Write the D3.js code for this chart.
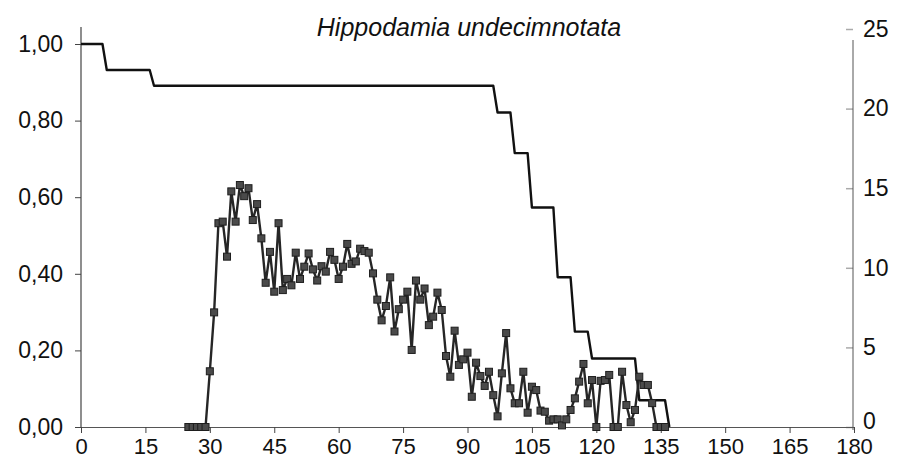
<!DOCTYPE html>
<html><head><meta charset="utf-8">
<script src="https://cdn.jsdelivr.net/npm/d3@7"></script>
<style>
body{margin:0;background:#fff}
svg{display:block}
text{font-family:"Liberation Sans",Arial,sans-serif;fill:#111}
</style>
</head><body>
<svg id="c" width="903" height="474"></svg>
<script>
// ---- data ----
const chartTitle = "Hippodamia undecimnotata";
const xTickValues = [0, 15, 30, 45, 60, 75, 90, 105, 120, 135, 150, 165, 180];
const leftTickValues = [0, 0.2, 0.4, 0.6, 0.8, 1.0];
const rightTickValues = [0, 5, 10, 15, 20, 25];

// survival (lx) – change points of the step line
const survivalDays   = [0, 5, 6, 16, 17, 96, 97, 100, 101, 104, 105, 110, 111, 114, 115, 118, 119, 129, 130, 136, 137];
const survivalValues = [1.0, 1.0, 0.932, 0.932, 0.891, 0.891, 0.821, 0.821, 0.715, 0.715, 0.573, 0.573, 0.391, 0.391, 0.249, 0.249, 0.179, 0.179, 0.07, 0.07, 0];

// daily fecundity (eggs/female/day), first value is day 25
const fecundityStartDay = 25;
const fecundityValues = [
  0, 0, 0, 0, 0,
  3.5, 7.2, 12.8, 12.9, 10.7, 14.8, 12.9, 15.2, 14.5, 15.0,
  13.0, 14.0, 11.85, 9.06, 11.0, 8.5, 12.8, 8.6, 9.3, 8.9,
  10.95, 9.3, 10.07, 10.9, 9.9, 9.2, 10.1, 9.76, 11.0, 10.5,
  9.3, 10.07, 11.5, 10.25, 10.4, 11.2, 11.05, 10.95, 9.65, 8.0,
  6.7, 7.6, 9.4, 6.0, 7.4, 8.0, 8.5, 4.84, 9.2, 8.0,
  8.7, 6.4, 6.93, 8.44, 7.35, 4.46, 3.16, 6.05, 3.9, 4.25,
  4.67, 1.9, 4.04, 3.2, 2.58, 3.47, 2.0, 0.67, 3.37, 5.9,
  2.43, 1.49, 1.49, 3.47, 0.9, 2.53, 2.32, 1.03, 0.96, 0.4,
  0.48, 0.48, 0.1, 0.48, 1.07, 1.8, 2.85, 3.96, 1.49, 2.95,
  0, 2.9, 2.95, 3.27, 0, 0, 3.47, 1.38, 0.3, 1.07,
  3.16, 2.64, 2.64, 1.5, 0, 0, 0
];

// ---- chart ----
const svg = d3.select("#c");
const x  = d3.scaleLinear().domain([0, 180]).range([81, 854]);
const yL = d3.scaleLinear().domain([0, 1]).range([427, 44]);
const yR = d3.scaleLinear().domain([0, 25]).range([427, 29]);

const fmtL = v => d3.format(".2f")(v).replace(".", ",");
const FS = 23;

// left axis
const gL = svg.append("g").attr("transform", "translate(81,0)")
  .call(d3.axisLeft(yL).tickValues(leftTickValues).tickFormat(fmtL).tickSize(6).tickPadding(12));
gL.select(".domain").remove();
gL.selectAll(".tick line").attr("stroke", "#444");
gL.selectAll("text").attr("font-size", FS).attr("fill", "#111");
svg.append("line").attr("x1", 81).attr("x2", 81).attr("y1", 27).attr("y2", 427)
  .attr("stroke", "#444").attr("stroke-width", 1.2);

// right axis
const gR = svg.append("g").attr("transform", "translate(853,0)")
  .call(d3.axisRight(yR).tickValues(rightTickValues).tickSizeInner(-7).tickSizeOuter(0).tickPadding(10));
gR.select(".domain").remove();
gR.selectAll(".tick line").attr("stroke", "#aaa").attr("stroke-width", 1.5);
gR.selectAll("text").attr("font-size", FS).attr("fill", "#111");
gR.selectAll(".tick").filter(d => d === 0).select("text").attr("dy", "0.08em");
svg.append("line").attr("x1", 853).attr("x2", 853).attr("y1", 40).attr("y2", 430)
  .attr("stroke", "#555").attr("stroke-width", 1);

// bottom axis
const gB = svg.append("g").attr("transform", "translate(0,427)")
  .call(d3.axisBottom(x).tickValues(xTickValues).tickSize(6).tickSizeOuter(0).tickPadding(5));
gB.select(".domain").attr("stroke", "#555").attr("stroke-width", 1.2);
gB.selectAll(".tick line").attr("stroke", "#444");
gB.selectAll("text").attr("font-size", 22).attr("fill", "#111");

// title
svg.append("text").attr("x", 469).attr("y", 36).attr("text-anchor", "middle")
  .attr("font-size", 25).attr("font-style", "italic").text(chartTitle);

// survival line
const survPts = survivalDays.map((d, i) => [d, survivalValues[i]]);
svg.append("path").datum(survPts)
  .attr("fill", "none").attr("stroke", "#111").attr("stroke-width", 2.4)
  .attr("stroke-linejoin", "round")
  .attr("d", d3.line().x(d => x(d[0])).y(d => yL(d[1])));

// fecundity line + markers
const fecPts = fecundityValues.map((v, i) => [fecundityStartDay + i, v]);
svg.append("path").datum(fecPts)
  .attr("fill", "none").attr("stroke", "#262626").attr("stroke-width", 2.4)
  .attr("stroke-linejoin", "round")
  .attr("d", d3.line().x(d => x(d[0])).y(d => yR(d[1])));
svg.append("g").selectAll("rect").data(fecPts).join("rect")
  .attr("x", d => x(d[0]) - 3.5).attr("y", d => yR(d[1]) - 3.5)
  .attr("width", 7).attr("height", 7)
  .attr("fill", "#4a4a4a").attr("stroke", "#1e1e1e").attr("stroke-width", 1);
</script>
</body></html>
